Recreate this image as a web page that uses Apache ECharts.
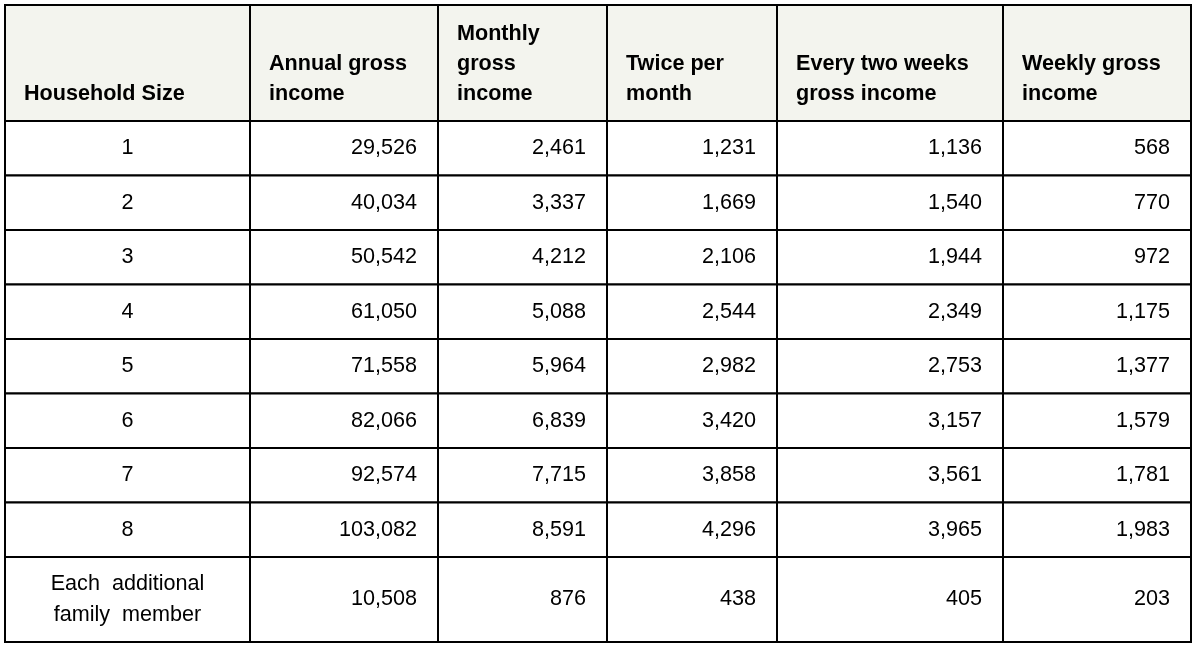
<!DOCTYPE html>
<html>
<head>
<meta charset="utf-8">
<title>Household income table</title>
<script src="https://cdn.jsdelivr.net/npm/echarts@6/dist/echarts.min.js"></script>
<style>
  html, body { margin: 0; padding: 0; background: #fff; }
  #chart { width: 1204px; height: 656px; }
</style>
</head>
<body>
<div id="chart"></div>
<script>
// column headers
const headers = [
  'Household Size',
  'Annual gross\nincome',
  'Monthly\ngross\nincome',
  'Twice per\nmonth',
  'Every two weeks\ngross income',
  'Weekly gross\nincome'
]

// table values
const householdSizes = ['1', '2', '3', '4', '5', '6', '7', '8', 'Each  additional\nfamily  member']
const annualIncome = [29526, 40034, 50542, 61050, 71558, 82066, 92574, 103082, 10508]
const monthlyIncome = [2461, 3337, 4212, 5088, 5964, 6839, 7715, 8591, 876]
const twicePerMonth = [1231, 1669, 2106, 2544, 2982, 3420, 3858, 4296, 438]
const everyTwoWeeks = [1136, 1540, 1944, 2349, 2753, 3157, 3561, 3965, 405]
const weeklyIncome = [568, 770, 972, 1175, 1377, 1579, 1781, 1983, 203]

// layout (px)
const colWidths = [245, 188, 169, 170, 226, 188]
const rowHeights = [116, 54.5, 54.5, 54.5, 54.5, 54.5, 54.5, 54.5, 54.5, 85]
const FONT = '"Liberation Sans", Arial, Helvetica, sans-serif'
const FONT_SIZE = 21.6

const cumulate = (arr) => arr.reduce((acc, v) => { acc.push(acc[acc.length - 1] + v); return acc }, [0])
const colEdges = cumulate(colWidths)
const rowEdges = cumulate(rowHeights)
const tableWidth = colEdges[colEdges.length - 1]
const tableHeight = rowEdges[rowEdges.length - 1]

const columns = [householdSizes, annualIncome, monthlyIncome, twicePerMonth, everyTwoWeeks, weeklyIncome]
const fmt = (v) => typeof v === 'number' ? v.toLocaleString('en-US') : v

// cells: [col, row, text]
const cells = []
headers.forEach((h, c) => cells.push([c, 0, h]))
householdSizes.forEach((_, r) => {
  columns.forEach((col, c) => cells.push([c, r + 1, fmt(col[r])]))
})

const renderCell = (params, api) => {
  const c = api.value(0)
  const r = api.value(1)
  const text = cells[params.dataIndex][2]
  const p0 = api.coord([colEdges[c], rowEdges[r]])
  const p1 = api.coord([colEdges[c + 1], rowEdges[r + 1]])
  const x = p0[0], y = p0[1], w = p1[0] - p0[0], h = p1[1] - p0[1]
  const isHeader = r === 0

  let textStyle
  if (isHeader) {
    textStyle = {
      x: x + 19, y: y + h - 12, align: 'left', verticalAlign: 'bottom',
      fontWeight: 'bold', lineHeight: 30
    }
  } else if (c === 0) {
    textStyle = { x: x + w / 2, y: y + h / 2, align: 'center', verticalAlign: 'middle', lineHeight: 31 }
  } else {
    textStyle = { x: x + w - 21, y: y + h / 2, align: 'right', verticalAlign: 'middle', lineHeight: 31 }
  }

  return {
    type: 'group',
    children: [
      {
        type: 'rect',
        shape: { x, y, width: w, height: h },
        style: { fill: isHeader ? '#f3f4ee' : '#ffffff', stroke: '#000', lineWidth: 2 }
      },
      {
        type: 'text',
        z2: 10,
        style: Object.assign({
          text,
          fill: '#000',
          fontSize: FONT_SIZE,
          fontFamily: FONT
        }, textStyle)
      }
    ]
  }
}

const chart = echarts.init(document.getElementById('chart'))
chart.setOption({
  animation: false,
  grid: { left: 5, top: 5, width: tableWidth, height: tableHeight },
  xAxis: { type: 'value', min: 0, max: tableWidth, show: false },
  yAxis: { type: 'value', min: 0, max: tableHeight, inverse: true, show: false },
  series: [{
    type: 'custom',
    coordinateSystem: 'cartesian2d',
    renderItem: renderCell,
    data: cells.map(d => [d[0], d[1]]),
    silent: true
  }]
})
</script>
</body>
</html>
